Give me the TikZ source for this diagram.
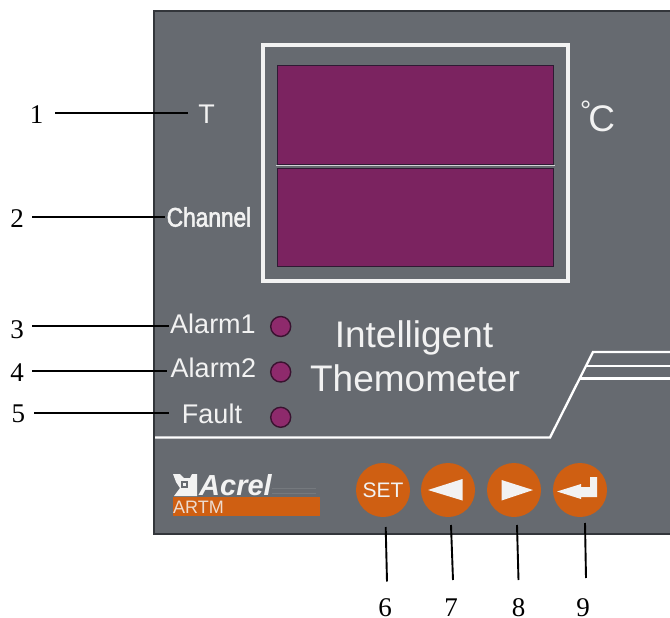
\documentclass[tikz,border=0pt]{standalone}
\usepackage{fontspec}
\setmainfont{Liberation Sans}
\newfontfamily\numfont{Liberation Serif}
\newfontfamily\chanfont[FakeStretch=0.84,FakeBold=2]{Liberation Sans}
\definecolor{panel}{HTML}{666A70}
\definecolor{paneledge}{HTML}{33363B}
\definecolor{lcd}{HTML}{7B2360}
\definecolor{lcdedge}{HTML}{2F1A33}
\definecolor{led}{HTML}{8E2A6C}
\definecolor{ledge}{HTML}{3A1230}
\definecolor{btn}{HTML}{CF5F12}
\definecolor{softwhite}{HTML}{F2F2F2}
\tikzset{
  x=1pt,y=-1pt,
  lead/.style={draw=black,line width=1.9pt},
  num/.style={font=\numfont\fontsize{27}{27}\selectfont,text=black,inner sep=0pt},
  lab/.style={text=softwhite,inner sep=0pt},
  lcdpane/.style={fill=lcd,draw=lcdedge,line width=1pt},
  ledlamp/.style={circle,fill=led,draw=ledge,line width=1.4pt,minimum size=20pt,inner sep=0pt},
  keybtn/.style={circle,fill=btn,minimum size=54pt,inner sep=0pt,text=softwhite},
  trim/.style={draw=white,line width=2.3pt}
}
\begin{document}
\begin{tikzpicture}
\useasboundingbox (0,0) rectangle (670,618);
\fill[white] (0,0) rectangle (670,618);
% panel
\fill[panel] (154,11) rectangle (670,534);
\draw[paneledge,line width=1.2pt] (670,11) -- (154,11) -- (154,534) -- (670,534);
% display
\draw[draw=softwhite,line width=3.4pt] (263,45) rectangle (568,281);
\node[lcdpane,minimum width=276pt,minimum height=98pt,inner sep=0pt] (top) at (415.5,115) {};
\node[lcdpane,minimum width=276pt,minimum height=98pt,inner sep=0pt] (bot) at (415.5,217) {};
\draw[draw=white!70!panel,line width=.6pt] (276,165.7) -- (555,165.7);
% labels
\node[lab,font=\fontsize{27}{27}\selectfont] (t) at (206.5,114) {T};
\node[lab,font=\chanfont\fontsize{27}{27}\selectfont] (chan) at (209,217) {Channel};
\node[lab,anchor=base west] (cel) at (580,131.5) {\raisebox{11pt}{\fontsize{28}{28}\selectfont °}\kern-3pt\fontsize{37}{37}\selectfont C};
\node[lab,font=\fontsize{27}{27}\selectfont] (a1) at (213,323.5) {Alarm1};
\node[lab,font=\fontsize{27}{27}\selectfont] (a2) at (213.5,368) {Alarm2};
\node[lab,font=\fontsize{27}{27}\selectfont] (fa) at (212,414) {Fault};
\node[lab,font=\fontsize{37}{37}\selectfont,anchor=base] (int) at (414,347) {Intelligent};
\node[lab,font=\fontsize{37}{37}\selectfont,anchor=base] (the) at (415,391) {Themometer};
% leds
\node[ledlamp] (l1) at (280.7,326.5) {};
\node[ledlamp] (l2) at (280.7,372) {};
\node[ledlamp] (l3) at (280.7,417.3) {};
% trim lines
\draw[trim] (155,437.5) -- (550,437.5) -- (593,352) -- (670,352);
\draw[trim] (586,366) -- (670,366);
\draw[trim] (580,378.5) -- (670,378.5);
% logo
\fill[btn] (173,497) rectangle (320,516);
\draw[panel!90!white,line width=.5pt] (272,488) -- (316,488);
\draw[panel!90!white,line width=.5pt] (272,493) -- (316,493);
\node[lab,font=\fontsize{18}{18}\selectfont,anchor=west,text=softwhite!85!btn] (artm) at (173,507) {ARTM};
\node[lab,font=\bfseries\itshape\fontsize{29}{29}\selectfont,anchor=west] (acrel) at (199,485) {Acrel};
\fill[softwhite] (173,474) -- (180,474) -- (184,478) -- (190,478) -- (192,474) -- (197,474) -- (197,496) -- (174,496) -- (180,488) -- (176,482) -- cycle;
\fill[panel] (181,481) rectangle (188,488);
\fill[softwhite] (183,483) rectangle (186,486);
% buttons
\node[keybtn,font=\fontsize{21}{21}\selectfont] (set) at (383,490) {SET};
\node[keybtn] (left) at (448,490) {};
\node[keybtn] (right) at (514,490) {};
\node[keybtn] (enter) at (580,490) {};
\fill[softwhite] (428,490) -- (462.5,479) -- (462.5,500.5) -- cycle;
\fill[softwhite] (501.5,480) -- (533,490) -- (501.5,500.5) -- cycle;
\fill[softwhite] (557,491.5) -- (581,484) -- (581,487) -- (590,487) -- (590,477) -- (597,477) -- (597,497) -- (581,497) -- (581,499) -- cycle;
% callouts
\node[num] (n1) at (36.5,115) {1};
\node[num] (n2) at (17,219) {2};
\node[num] (n3) at (17,330) {3};
\node[num] (n4) at (17,373) {4};
\node[num] (n5) at (18.5,414) {5};
\node[num] (n6) at (385,608) {6};
\node[num] (n7) at (451,608) {7};
\node[num] (n8) at (518.5,608) {8};
\node[num] (n9) at (583,608) {9};
\coordinate (e1) at (188,113);
\coordinate (e2) at (165,217);
\coordinate (e3) at (169,326);
\coordinate (e4) at (167,371);
\coordinate (e5) at (169,413);
\coordinate (e6) at (385.7,527);
\coordinate (e7) at (451,525);
\coordinate (e8) at (517,525);
\coordinate (e9) at (585,523);
\coordinate (s1) at (55,113);
\coordinate (s2) at (32,217);
\coordinate (s3) at (32,326);
\coordinate (s4) at (32,371);
\coordinate (s5) at (34,413);
\coordinate (s6) at (387,581.5);
\coordinate (s7) at (453,580);
\coordinate (s8) at (518.5,580);
\coordinate (s9) at (586,578);
\foreach \i in {1,...,9} {\draw[lead] (s\i) -- (e\i);}
\end{tikzpicture}
\end{document}
